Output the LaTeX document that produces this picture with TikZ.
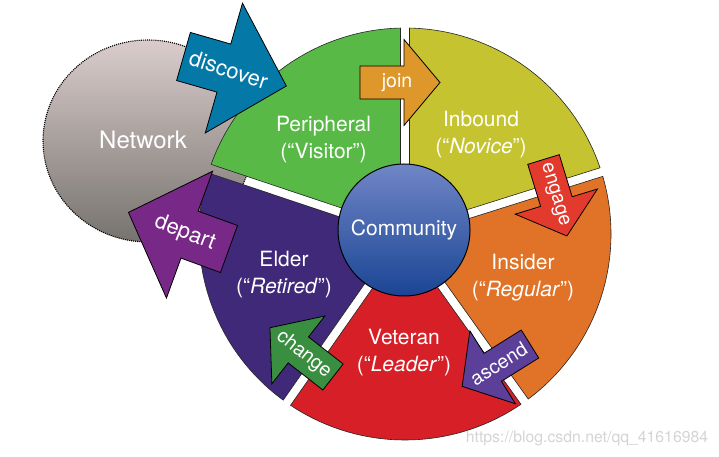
\documentclass[tikz,border=0pt]{standalone}
\usepackage{fontspec}
\setmainfont{TeX Gyre Heros}
\usetikzlibrary{calc,shapes.geometric}
\definecolor{cPeri}{HTML}{58B947}
\definecolor{cInb}{HTML}{C5C430}
\definecolor{cIns}{HTML}{E07327}
\definecolor{cVet}{HTML}{D71F28}
\definecolor{cEld}{HTML}{41297A}
\definecolor{cDisc}{HTML}{0479A7}
\definecolor{cJoin}{HTML}{DD972A}
\definecolor{cEng}{HTML}{E23A2C}
\definecolor{cAsc}{HTML}{5B3F99}
\definecolor{cChg}{HTML}{3A8E40}
\definecolor{cDep}{HTML}{782987}
\definecolor{netTop}{HTML}{DACCCC}
\definecolor{netBot}{HTML}{76736E}
\definecolor{comTop}{HTML}{7086C6}
\definecolor{comBot}{HTML}{1A4594}
\def\wR{206}
\def\wgap{4.5}
\def\wdl{1.25}
\newcommand{\wsector}[3]{%
  \filldraw[wedgeline,fill=#3]
    ($(W)+({#1+90}:\wgap)+(#1:25)$) -- ($(W)+({#1+\wdl}:\wR)$)
    arc[start angle={#1+\wdl}, end angle={#2-\wdl}, radius=\wR]
    -- ($(W)+({#2-90}:\wgap)+(#2:25)$) -- cycle;}
\newcommand{\smallarr}[7]{%
  \begin{scope}[shift={(#1,#2)},rotate=#3]
    \filldraw[arrline,fill=#4] (0,16.5) -- (44,16.5) -- (44,43) -- (80,0) -- (44,-43) -- (44,-16.5) -- (0,-16.5) -- cycle;
    \node[arrtext,rotate=#5] (#6) at (37,0) {#7};
  \end{scope}}
\newcommand{\bigarr}[7]{%
  \begin{scope}[shift={(#1,#2)},rotate=#3]
    \filldraw[arrline,fill=#4] (0,25) -- (42,25) -- (42,67.5) -- (107,0) -- (42,-67.5) -- (42,-25) -- (0,-25) -- cycle;
    \node[arrtext,font=\fontsize{22}{25}\selectfont,rotate=#5] (#6) at (47,0) {#7};
  \end{scope}}
\begin{document}
\begin{tikzpicture}[x=1pt,y=1pt,
  wedgeline/.style={draw=black!85,line width=0.6pt},
  arrline/.style={draw=black,line width=0.8pt,line join=miter},
  arrtext/.style={text=white,font=\fontsize{19.5}{22}\selectfont,inner sep=0pt},
  lbl/.style={text=white,font=\fontsize{21}{27}\selectfont,align=center,inner sep=0pt},
  netstyle/.style={ellipse,minimum width=210,minimum height=202,inner sep=0pt,top color=netTop,bottom color=netBot,
     draw=black,line width=1.1pt,densely dotted},
  comstyle/.style={circle,minimum size=132,inner sep=0pt,top color=comTop,bottom color=comBot,
     draw=black,line width=1pt,text=white,font=\fontsize{21}{25}\selectfont},
  wm/.style={text=gray!60,text opacity=0.55,font=\fontsize{15.8}{18}\selectfont,inner sep=0pt}]
\useasboundingbox (0,0) rectangle (719,457);
\fill[white] (0,0) rectangle (719,457);
% network
\node[netstyle] (network) at (148,316) {};
\node[text=white,font=\fontsize{24}{28}\selectfont,inner sep=0pt] (nettext) at (143,317) {Network};
% wedges
\coordinate (W) at (405,223);
\wsector{90}{161.5}{cPeri}
\wsector{17.5}{90}{cInb}
\wsector{-54.5}{17.5}{cIns}
\wsector{-125}{-54.5}{cVet}
\wsector{161.5}{235}{cEld}
% community
\node[comstyle] (community) at (404,227) {Community};
% arrows
\bigarr{183.5}{400.5}{-16}{cDisc}{-18}{discover}{discover}
\smallarr{360}{374.5}{0}{cJoin}{0}{join}{join}
\smallarr{543.5}{297.5}{-73}{cEng}{-73}{engage}{engage}
\smallarr{530}{113}{212}{cAsc}{32}{ascend}{ascend}
\smallarr{333}{80}{142}{cChg}{-38}{change}{change}
\bigarr{229}{208}{160}{cDep}{-21}{depart}{depart}
% labels
\node[lbl] (peri) at (323.5,317) {Peripheral\\(“Visitor”)};
\node[lbl] (inb) at (481,322) {Inbound\\(“\textit{Novice}”)};
\node[lbl] (ins) at (523,179) {Insider\\(“\textit{Regular}”)};
\node[lbl] (vet) at (404,104) {Veteran\\(“\textit{Leader}”)};
\node[lbl] (eld) at (284,182.5) {Elder\\(“\textit{Retired}”)};
% watermark
\node[wm] (wmark) at (587,19) {https://blog.csdn.net/qq\_41616984};
\end{tikzpicture}
\end{document}
